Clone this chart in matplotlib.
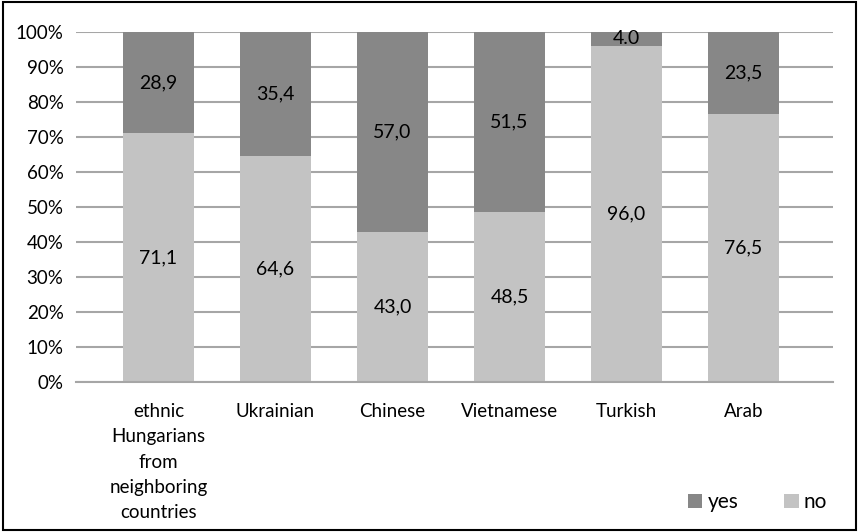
import matplotlib
matplotlib.use("Agg")
import matplotlib.pyplot as plt
from matplotlib.patches import Rectangle

categories = ["ethnic\nHungarians\nfrom\nneighboring\ncountries", "Ukrainian", "Chinese",
              "Vietnamese", "Turkish", "Arab"]
no_vals = [71.1, 64.6, 43.0, 48.5, 96.0, 76.5]
yes_vals = [28.9, 35.4, 57.0, 51.5, 4.0, 23.5]
no_labels = ["71,1", "64,6", "43,0", "48,5", "96,0", "76,5"]
yes_labels = ["28,9", "35,4", "57,0", "51,5", "4.0", "23,5"]

YES = "#878787"
NO = "#c3c3c3"
GRID = "#a6a6a6"

plt.rcParams.update({"font.family": ["Lato", "DejaVu Sans"], "font.size": 13})

fig = plt.figure(figsize=(8.59, 5.32), dpi=100)
ax = fig.add_axes([76 / 859, 1 - 382 / 532, (833 - 76) / 859, 350 / 532])

x = list(range(len(categories)))
w = 0.607
b_no = ax.bar(x, no_vals, w, color=NO, label="no", zorder=2)
b_yes = ax.bar(x, yes_vals, w, bottom=no_vals, color=YES, label="yes", zorder=2)
ax.bar_label(b_no, labels=no_labels, label_type="center", fontsize=14)
ax.bar_label(b_yes, labels=yes_labels, label_type="center", fontsize=14)

ax.set_xlim(-0.705, 5.765)
ax.set_ylim(0, 100)
ax.set_yticks(range(0, 101, 10))
ax.set_yticklabels([f"{v}%" for v in range(0, 101, 10)])
ax.set_xticks(x)
ax.set_xticklabels(categories, linespacing=1.6, va="top")
ax.tick_params(axis="both", length=0, labelsize=13.5)
ax.tick_params(axis="y", pad=9)
ax.tick_params(axis="x", pad=15)
ax.yaxis.grid(True, color=GRID, linewidth=1.5, zorder=0)
for s in ["top", "right", "left"]:
    ax.spines[s].set_visible(False)
ax.spines["bottom"].set_color(GRID)
ax.spines["bottom"].set_linewidth(1.5)

h, l = ax.get_legend_handles_labels()
fig.legend(h[::-1], l[::-1], loc="center right", bbox_to_anchor=(0.985, 0.056), ncol=2,
           frameon=False, handlelength=0.7, handleheight=0.7, handletextpad=0.25,
           columnspacing=2.2, fontsize=15)

fig.patches.append(Rectangle((0.004, 0.004), 0.992, 0.992, transform=fig.transFigure,
                             fill=False, edgecolor="black", linewidth=1.5))

fig.savefig("out.png", dpi=100)
